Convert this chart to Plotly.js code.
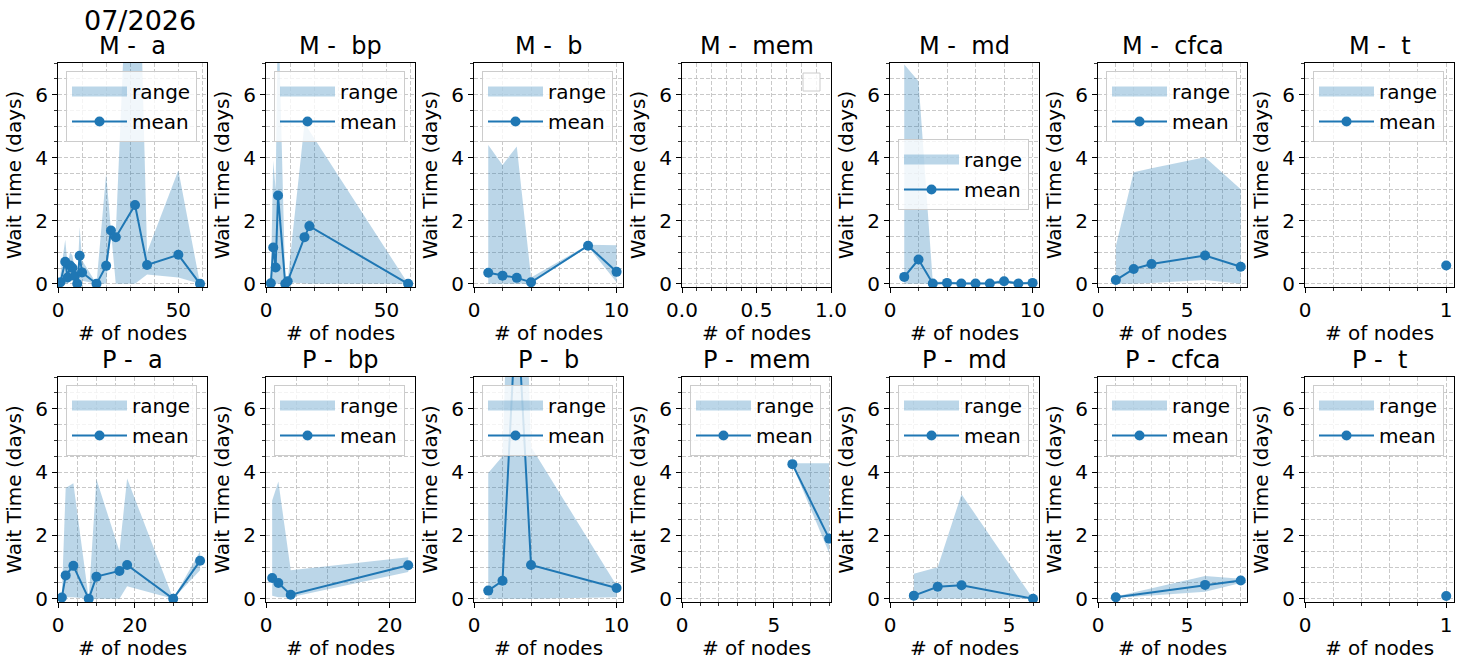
<!DOCTYPE html>
<html><head><meta charset="utf-8">
<script src="https://cdn.plot.ly/plotly-3.0.1.min.js"></script>
<style>html,body{margin:0;padding:0;background:#fff}#chart{width:1463px;height:667px}</style>
</head><body><div id="chart"></div>
<script>
// ---------------- data ----------------
const suptitle = '07/2026';
const groups = ['M', 'P'];
const categories = ['a', 'bp', 'b', 'mem', 'md', 'cfca', 't'];
const yLabel = 'Wait Time (days)';
const xLabel = '# of nodes';
const seriesNames = ['range', 'mean'];

// M group
const M_a_x    = [1, 3, 4, 5, 6, 7, 8, 9, 10, 16, 20, 22, 24, 32, 37, 50, 59];
const M_a_mean = [0.05, 0.7, 0.2, 0.58, 0.5, 0.25, 0.0, 0.89, 0.36, 0.0, 0.57, 1.69, 1.48, 2.5, 0.6, 0.92, 0.0];
const M_a_lo   = [0, 0, 0, 0.1, 0.1, 0.1, 0, 0, 0.1, 0, 0, 1.69, 0, 0, 0.3, 0.2, 0];
const M_a_hi   = [0.3, 1.4, 0.6, 1.0, 0.9, 0.5, 0.0, 1.8, 0.75, 0.0, 3.5, 1.7, 1.6, 16, 1.0, 3.6, 0.0];

const M_bp_x    = [2, 3, 4, 5, 8, 9, 16, 18, 59];
const M_bp_mean = [0.02, 1.15, 0.52, 2.8, 0.0, 0.08, 1.48, 1.83, 0.0];
const M_bp_lo   = [0, 0, 0, 0, 0, 0.05, 0, 0, 0];
const M_bp_hi   = [0.1, 3.9, 3.0, 9.0, 0.0, 0.1, 5.1, 4.85, 0.0];

const M_b_x    = [1, 2, 3, 4, 8, 10];
const M_b_mean = [0.35, 0.26, 0.19, 0.05, 1.21, 0.38];
const M_b_lo   = [0, 0, 0, 0, 1.18, 0.05];
const M_b_hi   = [4.4, 3.77, 4.35, 0.2, 1.24, 1.22];

const M_mem_x    = [];
const M_mem_mean = [];
const M_mem_lo   = [];
const M_mem_hi   = [];

const M_md_x    = [1, 2, 3, 4, 5, 6, 7, 8, 9, 10];
const M_md_mean = [0.22, 0.77, 0.01, 0.03, 0.01, 0.01, 0.01, 0.08, 0.01, 0.03];
const M_md_lo   = [0, 0, 0, 0, 0, 0, 0, 0.01, 0, 0];
const M_md_hi   = [6.95, 6.42, 0.06, 0.08, 0.04, 0.04, 0.04, 0.15, 0.04, 0.08];

const M_cfca_x    = [1, 2, 3, 6, 8];
const M_cfca_mean = [0.12, 0.47, 0.63, 0.9, 0.54];
const M_cfca_lo   = [0, 0, 0.03, 0.12, 0];
const M_cfca_hi   = [1.2, 3.54, 3.66, 4.01, 3.0];

const M_t_x    = [1];
const M_t_mean = [0.58];
const M_t_lo   = [0.58];
const M_t_hi   = [0.58];

// P group
const P_a_x    = [1, 2, 4, 8, 10, 16, 18, 30, 37];
const P_a_mean = [0.04, 0.74, 1.04, 0.0, 0.7, 0.88, 1.07, 0.0, 1.2];
const P_a_lo   = [0, 0.05, 0.05, 0, 0, 0, 0.4, 0, 0.9];
const P_a_hi   = [0.1, 3.5, 3.65, 0.0, 3.78, 1.5, 3.8, 0.0, 1.5];

const P_bp_x    = [1, 2, 4, 23];
const P_bp_mean = [0.66, 0.5, 0.13, 1.06];
const P_bp_lo   = [0.1, 0.05, 0.05, 0.85];
const P_bp_hi   = [3.1, 3.7, 0.9, 1.31];

const P_b_x    = [1, 2, 3, 4, 10];
const P_b_mean = [0.26, 0.57, 9.5, 1.07, 0.34];
const P_b_lo   = [0, 0, 0, 0, 0.05];
const P_b_hi   = [3.97, 4.5, 19, 4.8, 0.42];

const P_mem_x    = [6, 8];
const P_mem_mean = [4.25, 1.9];
const P_mem_lo   = [4.22, 1.45];
const P_mem_hi   = [4.28, 4.28];

const P_md_x    = [1, 2, 3, 6];
const P_md_mean = [0.1, 0.38, 0.43, 0.0];
const P_md_lo   = [0, 0, 0, 0];
const P_md_hi   = [0.79, 1.0, 3.3, 0.0];

const P_cfca_x    = [1, 6, 8];
const P_cfca_mean = [0.05, 0.44, 0.58];
const P_cfca_lo   = [0.03, 0.22, 0.5];
const P_cfca_hi   = [0.07, 0.72, 0.63];

const P_t_x    = [1];
const P_t_mean = [0.09];
const P_t_lo   = [0.09];
const P_t_hi   = [0.09];

// tick steps per category (major, minor) for each group
const M_xMajor = [50, 50, 10, 0.5, 10, 5, 1];
const M_xMinor = [10, 10, 2, 0.1, 2, 1, 0.2];
const P_xMajor = [20, 20, 10, 5, 5, 5, 1];
const P_xMinor = [5, 5, 2, 1, 1, 1, 0.2];

const panelData = {
  M: [[M_a_x, M_a_mean, M_a_lo, M_a_hi], [M_bp_x, M_bp_mean, M_bp_lo, M_bp_hi],
      [M_b_x, M_b_mean, M_b_lo, M_b_hi], [M_mem_x, M_mem_mean, M_mem_lo, M_mem_hi],
      [M_md_x, M_md_mean, M_md_lo, M_md_hi], [M_cfca_x, M_cfca_mean, M_cfca_lo, M_cfca_hi],
      [M_t_x, M_t_mean, M_t_lo, M_t_hi]],
  P: [[P_a_x, P_a_mean, P_a_lo, P_a_hi], [P_bp_x, P_bp_mean, P_bp_lo, P_bp_hi],
      [P_b_x, P_b_mean, P_b_lo, P_b_hi], [P_mem_x, P_mem_mean, P_mem_lo, P_mem_hi],
      [P_md_x, P_md_mean, P_md_lo, P_md_hi], [P_cfca_x, P_cfca_mean, P_cfca_lo, P_cfca_hi],
      [P_t_x, P_t_mean, P_t_lo, P_t_hi]]
};
const ticks = { M: [M_xMajor, M_xMinor], P: [P_xMajor, P_xMinor] };

// ---------------- layout geometry ----------------
const W = 1463, H = 667;
const colLeft = [58, 266, 474, 682, 890, 1098, 1305];
const colW = 149;
const rowTop = [63, 377];
const rowBot = [287, 602];
const C0 = '#1f77b4';
const FILL = 'rgba(31,119,180,0.3)';
const FONT = 'DejaVu Sans, Liberation Sans, sans-serif';
const GRID = '#bcbcbc';

function px(x) { return x / W; }
function py(y) { return 1 - y / H; }
function xmaxOf(x) {
  if (!x.length) return 1;
  const mn = Math.min(...x), mx = Math.max(...x);
  if (mx === mn) return mx * 1.055;
  return mx + 0.05 * (mx - mn);
}

const traces = [];
const layout = {
  width: W, height: H,
  margin: { l: 0, r: 0, t: 0, b: 0 },
  paper_bgcolor: '#fff', plot_bgcolor: '#fff',
  showlegend: true,
  font: { family: FONT, color: '#000', size: 19 },
  annotations: [], shapes: []
};

layout.annotations.push({
  text: suptitle, xref: 'paper', yref: 'paper', x: px(140), y: py(38),
  xanchor: 'center', yanchor: 'bottom', showarrow: false,
  font: { family: FONT, size: 27, color: '#000' }
});

let k = 0;
groups.forEach((g, r) => {
  categories.forEach((cat, c) => {
    k += 1;
    const [xs, mean, lo, hi] = panelData[g][c];
    const sfx = (k === 1 ? '' : String(k));
    const xa = 'x' + sfx, ya = 'y' + sfx;
    const legName = 'legend' + sfx;
    const left = colLeft[c], top = rowTop[r], bot = rowBot[r];
    const isMem = cat === 'mem' && g === 'M';

    if (!isMem) {
      traces.push({ x: [null], y: [null], mode: 'lines', name: seriesNames[0],
        line: { color: FILL, width: 14 }, xaxis: xa, yaxis: ya, legend: legName,
        legendgroup: 'range', showlegend: true, hoverinfo: 'skip' });
    }
    traces.push({ x: xs, y: lo, mode: 'lines', line: { width: 0, color: FILL },
      xaxis: xa, yaxis: ya, showlegend: false, hoverinfo: 'skip' });
    traces.push({ x: xs, y: hi, mode: 'lines', line: { width: 0, color: FILL },
      fill: 'tonexty', fillcolor: FILL, xaxis: xa, yaxis: ya, showlegend: false, hoverinfo: 'skip' });
    traces.push({ x: xs, y: mean, mode: 'lines+markers', name: seriesNames[1],
      line: { color: C0, width: 2 }, marker: { color: C0, size: 10 },
      xaxis: xa, yaxis: ya, legend: legName, legendgroup: 'mean', showlegend: !isMem });

    const gridCommon = { showgrid: true, gridcolor: GRID, gridwidth: 0.8, griddash: '4px,2px' };
    layout['xaxis' + sfx] = Object.assign({
      domain: [px(left), px(left + colW)], anchor: ya,
      range: [0, xmaxOf(xs)], tick0: 0, dtick: ticks[g][0][c],
      tickformat: isMem ? '.1f' : '', ticks: 'outside', ticklen: 5, tickwidth: 1, tickcolor: '#000',
      showline: true, linecolor: '#000', linewidth: 1, mirror: true, zeroline: false,
      tickfont: { family: FONT, size: 20, color: '#000' },
      minor: Object.assign({ tick0: 0, dtick: ticks[g][1][c], ticks: 'outside', ticklen: 3, tickcolor: '#000', tickwidth: 0.8 }, gridCommon)
    }, gridCommon);
    layout['yaxis' + sfx] = Object.assign({
      domain: [py(bot), py(top)], anchor: xa,
      range: [-0.1, 7], tick0: 0, dtick: 2,
      ticks: 'outside', ticklen: 5, tickwidth: 1, tickcolor: '#000',
      showline: true, linecolor: '#000', linewidth: 1, mirror: true, zeroline: false,
      tickfont: { family: FONT, size: 20, color: '#000' },
      title: { text: yLabel, font: { family: FONT, size: 20, color: '#000' }, standoff: 8 },
      minor: Object.assign({ tick0: 0, dtick: 0.5, ticks: 'outside', ticklen: 3, tickcolor: '#000', tickwidth: 0.8 }, gridCommon)
    }, gridCommon);

    // subplot title
    layout.annotations.push({
      text: g + ' - \u00a0' + cat, xref: 'paper', yref: 'paper',
      x: px(left + colW / 2), y: py(top - 1), xanchor: 'center', yanchor: 'bottom',
      showarrow: false, font: { family: FONT, size: 24, color: '#000' }
    });
    // x axis title
    layout.annotations.push({
      text: xLabel, xref: 'paper', yref: 'paper',
      x: px(left + colW / 2), y: py(bot + 46), xanchor: 'center', yanchor: 'middle',
      showarrow: false, font: { family: FONT, size: 20, color: '#000' }
    });

    // legend box
    const legTop = (g === 'M' && cat === 'md') ? 139 : top + 8;
    layout[legName] = {
      visible: true,
      x: px(left + colW - 10), y: py(legTop), xanchor: 'right', yanchor: 'top',
      bgcolor: 'rgba(255,255,255,0.8)', bordercolor: '#cccccc', borderwidth: 1,
      font: { family: FONT, size: 20, color: '#000' },
      itemwidth: 55, traceorder: 'grouped', tracegroupgap: 1
    };
    if (isMem) {
      layout.shapes.push({ type: 'rect', xref: 'paper', yref: 'paper',
        x0: px(803), x1: px(820), y0: py(91), y1: py(73),
        line: { color: '#cccccc', width: 1 }, fillcolor: 'rgba(255,255,255,0.8)' });
    }
  });
});

Plotly.newPlot('chart', traces, layout, { displayModeBar: false, staticPlot: true });
</script>
</body></html>
